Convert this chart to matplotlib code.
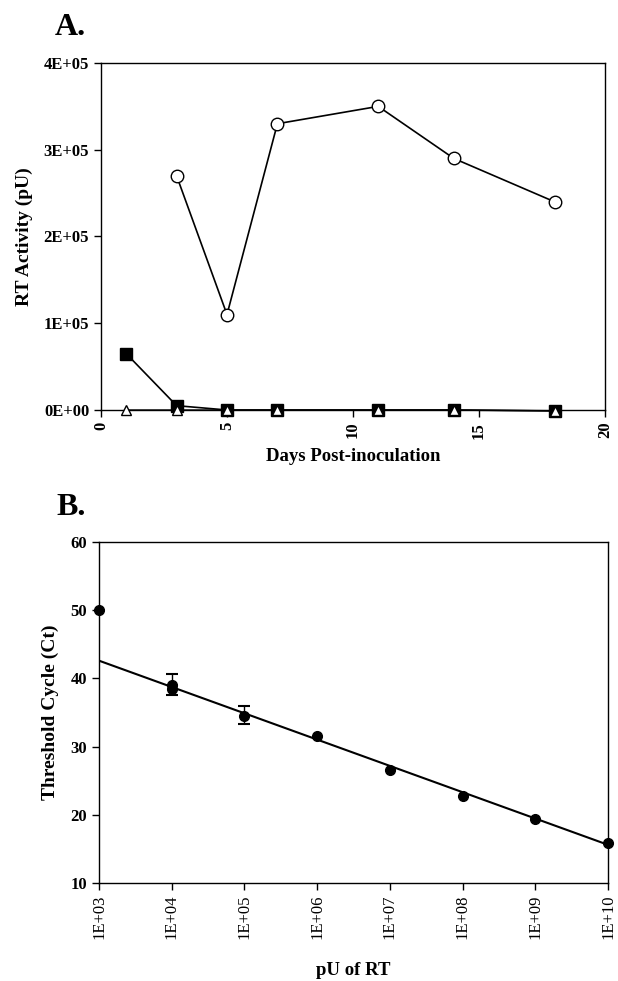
import matplotlib.pyplot as plt
from matplotlib.ticker import FixedLocator

plt.rcParams["font.family"] = ["Liberation Serif", "DejaVu Serif"]
plt.rcParams["font.weight"] = "bold"

# panel A: RT activity over time
days_circle = [3, 5, 7, 11, 14, 18]
rt_circle = [2.7e5, 1.1e5, 3.3e5, 3.5e5, 2.9e5, 2.4e5]
days_square = [1, 3, 5, 7, 11, 14, 18]
rt_square = [6.5e4, 5e3, 0, 0, 0, 0, -1e3]
days_triangle = [1, 3, 5, 7, 11, 14, 18]
rt_triangle = [0, 0, 0, 0, 0, 0, -1e3]
a_yticks = [0, 1e5, 2e5, 3e5, 4e5]
a_yticklabels = ["0E+00", "1E+05", "2E+05", "3E+05", "4E+05"]
a_xticks = [0, 5, 10, 15, 20]

# panel B: standard curve
pu_rt = [1e3, 1e4, 1e4, 1e5, 1e6, 1e7, 1e8, 1e9, 1e10]
ct = [50.0, 39.0, 38.4, 34.5, 31.6, 26.6, 22.8, 19.4, 15.8]
err_x = [1e4, 1e5]
err_y = [39.1, 34.6]
err_lo = [1.6, 1.3]
err_hi = [1.6, 1.3]
fit_x = [1e3, 1e10]
fit_y = [42.6, 15.6]
b_xticks = [1e3, 1e4, 1e5, 1e6, 1e7, 1e8, 1e9, 1e10]
b_xticklabels = ["1E+03", "1E+04", "1E+05", "1E+06", "1E+07", "1E+08", "1E+09", "1E+10"]
b_yticks = [10, 20, 30, 40, 50, 60]

fig = plt.figure(figsize=(6.18, 9.81), dpi=100)
W, H = 618, 981


def px_rect(left, top, right, bottom):
    return [left / W, 1 - bottom / H, (right - left) / W, (bottom - top) / H]


ax_a = fig.add_axes(px_rect(101, 63, 605, 410))
ax_a.plot(days_circle, rt_circle, "-o", color="black", lw=1.2, ms=9,
          mfc="white", mec="black", mew=1.0, zorder=3, clip_on=False)
ax_a.plot(days_square, rt_square, "-s", color="black", lw=1.2, ms=9,
          mfc="black", mec="black", zorder=3, clip_on=False)
ax_a.plot(days_triangle, rt_triangle, "-^", color="black", lw=1.0, ms=7,
          mfc="white", mec="black", mew=1.0, zorder=4, clip_on=False)
ax_a.set_xlim(0, 20)
ax_a.set_ylim(0, 4e5)
ax_a.yaxis.set_major_locator(FixedLocator(a_yticks))
ax_a.set_yticklabels(a_yticklabels)
ax_a.set_xticks(a_xticks)
ax_a.set_xticklabels([str(t) for t in a_xticks], rotation=90)
ax_a.set_xlabel("Days Post-inoculation", fontsize=13.5, fontweight="bold", labelpad=7)
ax_a.set_ylabel("RT Activity (pU)", fontsize=14, fontweight="bold", labelpad=8)
ax_a.tick_params(direction="out", length=5, width=1, labelsize=12)
fig.text(86 / W, 1 - 35 / H, "A.", fontsize=23, fontweight="bold",
         ha="right", va="baseline")

ax_b = fig.add_axes(px_rect(99, 542, 608, 883))
ax_b.plot(fit_x, fit_y, "-", color="black", lw=1.5, zorder=2)
ax_b.errorbar(err_x, err_y, yerr=[err_lo, err_hi], fmt="none", ecolor="black",
              elinewidth=1.0, capsize=4, capthick=1.5, zorder=2)
ax_b.plot(pu_rt, ct, "o", color="black", ms=7, zorder=3, clip_on=False)
ax_b.set_xscale("log")
ax_b.set_xlim(1e3, 1e10)
ax_b.set_ylim(10, 60)
ax_b.xaxis.set_major_locator(FixedLocator(b_xticks))
ax_b.xaxis.set_minor_locator(FixedLocator([]))
ax_b.set_xticklabels(b_xticklabels, rotation=90, fontweight="normal")
ax_b.set_yticks(b_yticks)
ax_b.set_xlabel("pU of RT", fontsize=13.5, fontweight="bold", labelpad=16)
ax_b.set_ylabel("Threshold Cycle (Ct)", fontsize=14, fontweight="bold", labelpad=8)
ax_b.tick_params(direction="out", length=5, width=1, labelsize=12)
fig.text(86 / W, 1 - 515 / H, "B.", fontsize=23, fontweight="bold",
         ha="right", va="baseline")

for ax in (ax_a, ax_b):
    for spine in ax.spines.values():
        spine.set_linewidth(1.0)

fig.savefig("out.png", dpi=100)
